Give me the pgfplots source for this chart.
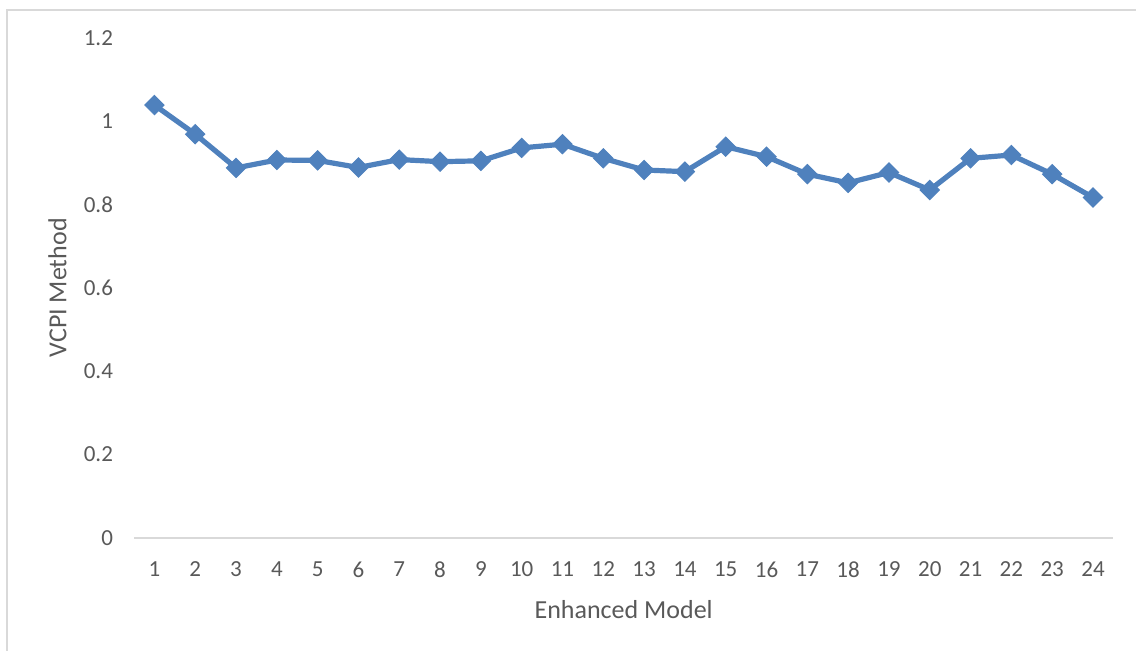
\documentclass[border=0pt]{standalone}
\usepackage{pgfplots}
\pgfplotsset{compat=1.18}
\usepackage{fontspec}
\setmainfont{Carlito}
\definecolor{lineblue}{HTML}{4F81BD}
\definecolor{txtgray}{HTML}{595959}
\definecolor{framegray}{HTML}{D9D9D9}
\begin{document}
\begin{tikzpicture}
\path[use as bounding box] (0,0) rectangle (568pt,325.5pt);
\draw[framegray, line width=0.9pt] (3.5pt,0) -- (3.5pt,320.5pt) -- (568pt,320.5pt);
\begin{axis}[
  at={(67pt,56.65pt)}, anchor=south west,
  scale only axis, width=489.7pt, height=249.85pt,
  xmin=0.5, xmax=24.5, ymin=0, ymax=1.2,
  xtick={1,...,24}, ytick={0,0.2,0.4,0.6,0.8,1,1.2},
  axis x line*=bottom, axis y line*=left,
  x axis line style={draw=framegray, line width=0.9pt},
  y axis line style={draw=none},
  major tick length=0pt,
  clip=false,
  /pgf/number format/assume math mode=true,
  tick label style={font=\fontsize{11.5}{13}\selectfont, text=txtgray},
  yticklabel style={xshift=-7pt},
  xticklabel style={yshift=-8.5pt},
  every axis x label/.style={at={(axis description cs:0.5,0)}, anchor=north, yshift=-31pt, inner sep=0pt, font=\fontsize{13}{15}\selectfont, text=txtgray},
  every axis y label/.style={at={(axis description cs:0,0.5)}, xshift=-38.25pt, rotate=90, anchor=center, inner sep=0pt, font=\fontsize{13}{15}\selectfont, text=txtgray},
  xlabel={Enhanced Model},
  ylabel={VCPI Method},
]
\addplot[lineblue, line width=2.6pt, mark=square*, mark size=3.4pt,
  mark options={rotate=45, line width=0.5pt, fill=lineblue, draw=lineblue}]
  coordinates {
(1,1.039) (2,0.969) (3,0.888) (4,0.907) (5,0.906) (6,0.889) (7,0.908) (8,0.903)
(9,0.905) (10,0.936) (11,0.945) (12,0.911) (13,0.883) (14,0.879) (15,0.939) (16,0.915)
(17,0.873) (18,0.852) (19,0.877) (20,0.835) (21,0.911) (22,0.919) (23,0.873) (24,0.817)
};
\end{axis}
\end{tikzpicture}
\end{document}
